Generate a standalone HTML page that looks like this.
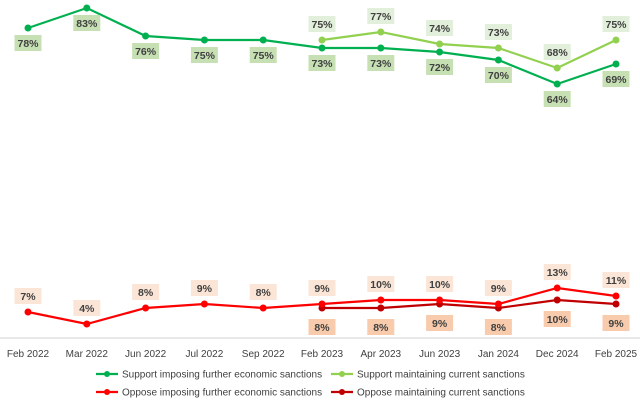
<!DOCTYPE html>
<html><head><meta charset="utf-8"><style>
body{margin:0;background:#fff;font-family:"Liberation Sans",sans-serif}
svg text{font-family:"Liberation Sans",sans-serif}
</style></head><body>
<svg id="c" width="640" height="400" viewBox="0 0 640 400"></svg>
<script>
const categories=["Feb 2022","Mar 2022","Jun 2022","Jul 2022","Sep 2022","Feb 2023","Apr 2023","Jun 2023","Jan 2024","Dec 2024","Feb 2025"];
const supportFurther=[78,83,76,75,75,73,73,72,70,64,69];
const supportMaintain=[null,null,null,null,null,75,77,74,73,68,75];
const opposeFurther=[7,4,8,9,8,9,10,10,9,13,11];
const opposeMaintain=[null,null,null,null,null,8,8,9,8,10,9];
const NS="http://www.w3.org/2000/svg";
const svg=document.getElementById('c');
const x=i=>28+i*58.8;
const y=v=>340-4*v;
function el(t,a,p){const e=document.createElementNS(NS,t);for(const k in a)e.setAttribute(k,a[k]);(p||svg).appendChild(e);return e;}
const axis=el('line',{x1:0,x2:640,y1:338,y2:338,stroke:'#d0d0d0','stroke-width':1});


categories.forEach((c,i)=>{
  const t=el('text',{x:x(i),y:357,'text-anchor':'middle','font-size':10,fill:'#404040'});t.textContent=c;
  
  
});
const series=[
 {d:supportFurther,col:'#00b050',bg:'#c6e0b4',off:15,name:'support-further'},
 {d:supportMaintain,col:'#92d050',bg:'#e2efda',off:-16,name:'support-maintain'},
 {d:opposeMaintain,col:'#c00000',bg:'#f8cbad',off:19,name:'oppose-maintain'},
 {d:opposeFurther,col:'#ff0000',bg:'#fbe5d6',off:-16,name:'oppose-further'}
];
series.forEach(s=>{
  const pts=[];s.d.forEach((v,i)=>{if(v!=null)pts.push([x(i),y(v)]);});
  const pl=el('polyline',{points:pts.map(p=>p.join(',')).join(' '),fill:'none',stroke:s.col,'stroke-width':2.2});
  
  
  s.d.forEach((v,i)=>{if(v==null)return;
    const c=el('circle',{cx:x(i),cy:y(v),r:3.5,fill:s.col});
    
    
    const ly=y(v)+s.off;
    el('rect',{x:x(i)-13.5,y:ly-8,width:27,height:16,fill:s.bg});
    const t=el('text',{x:x(i),y:ly+4,'text-anchor':'middle','font-size':10.5,'font-weight':'bold',fill:'#404040'});t.textContent=v+'%';
    
    
  });
});
const legend=[["Support imposing further economic sanctions",'#00b050',96,374],["Support maintaining current sanctions",'#92d050',331,374],["Oppose imposing further economic sanctions",'#ff0000',96,392],["Oppose maintaining current sanctions",'#c00000',331,392]];
legend.forEach(l=>{
  const g=el('g',{});
  
  
  el('line',{x1:l[2],x2:l[2]+22,y1:l[3],y2:l[3],stroke:l[1],'stroke-width':2.2},g);
  el('circle',{cx:l[2]+11,cy:l[3],r:3,fill:l[1]},g);
  const t=el('text',{x:l[2]+26,y:l[3]+3.5,'font-size':10,fill:'#404040'},g);t.textContent=l[0];
});
</script>
</body></html>
